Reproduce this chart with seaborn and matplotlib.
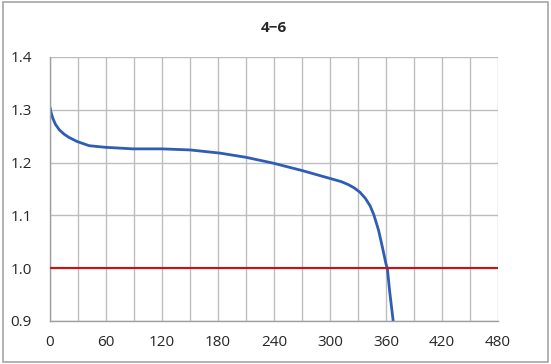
import numpy as np
import pandas as pd
import seaborn as sns
import matplotlib.pyplot as plt
from matplotlib.ticker import MultipleLocator

sns.set_theme(style='white')
plt.rcParams['font.family'] = ['Open Sans', 'DejaVu Sans']

# discharge curve (minutes, volts)
minutes = [0, 1, 3, 6, 10, 15, 20, 29, 42, 59, 89, 120, 150, 182, 210, 239, 270, 300,
           312, 320, 326, 332, 338, 343, 347, 352, 356, 360, 361.4, 364, 367.7]
voltage = [1.305, 1.296, 1.284, 1.272, 1.262, 1.254, 1.248, 1.240, 1.232, 1.229, 1.226,
           1.226, 1.224, 1.218, 1.210, 1.199, 1.185, 1.170, 1.164, 1.158, 1.152, 1.144,
           1.132, 1.118, 1.101, 1.072, 1.041, 1.008, 1.0, 0.955, 0.9]
cutoff = 1.0

df = pd.DataFrame({'min': minutes, 'V': voltage})

fig = plt.figure(figsize=(5.51, 3.64), dpi=100)
ax = fig.add_axes([50 / 551, 1 - 321 / 364, (498 - 50) / 551, (321 - 57) / 364])

sns.lineplot(data=df, x='min', y='V', ax=ax, color='#2F5CB4', linewidth=2.0)
ax.axhline(cutoff, color='#D01010', linewidth=1.5, zorder=3)

ax.set_xlim(0, 480)
ax.set_ylim(0.9, 1.4)
ax.xaxis.set_major_locator(MultipleLocator(60))
ax.xaxis.set_minor_locator(MultipleLocator(30))
ax.yaxis.set_major_locator(MultipleLocator(0.1))
ax.yaxis.set_major_formatter(plt.FormatStrFormatter('%.1f'))
ax.grid(which='both', axis='x', color='#BDBDBD', linewidth=1.0)
ax.grid(which='major', axis='y', color='#BDBDBD', linewidth=1.0)
ax.set_axisbelow(True)
for s in ['top', 'right']:
    ax.spines[s].set_visible(False)
for s in ['left', 'bottom']:
    ax.spines[s].set_color('#A0A0A0')
    ax.spines[s].set_linewidth(1.0)
ax.tick_params(axis='y', which='major', length=5, color='#A0A0A0', labelsize=11, pad=8)
ax.tick_params(axis='x', which='both', length=0, labelsize=11, pad=10)
ax.set_xlabel('')
ax.set_ylabel('')
ax.set_title('4−6', fontsize=11, fontweight='bold', pad=18)

fig.patches.append(plt.Rectangle((3 / 551, 2 / 364), 545 / 551, 360 / 364, transform=fig.transFigure,
                                 fill=False, edgecolor='#A6A6A6', linewidth=1.2))

fig.savefig('out.png', dpi=100)
